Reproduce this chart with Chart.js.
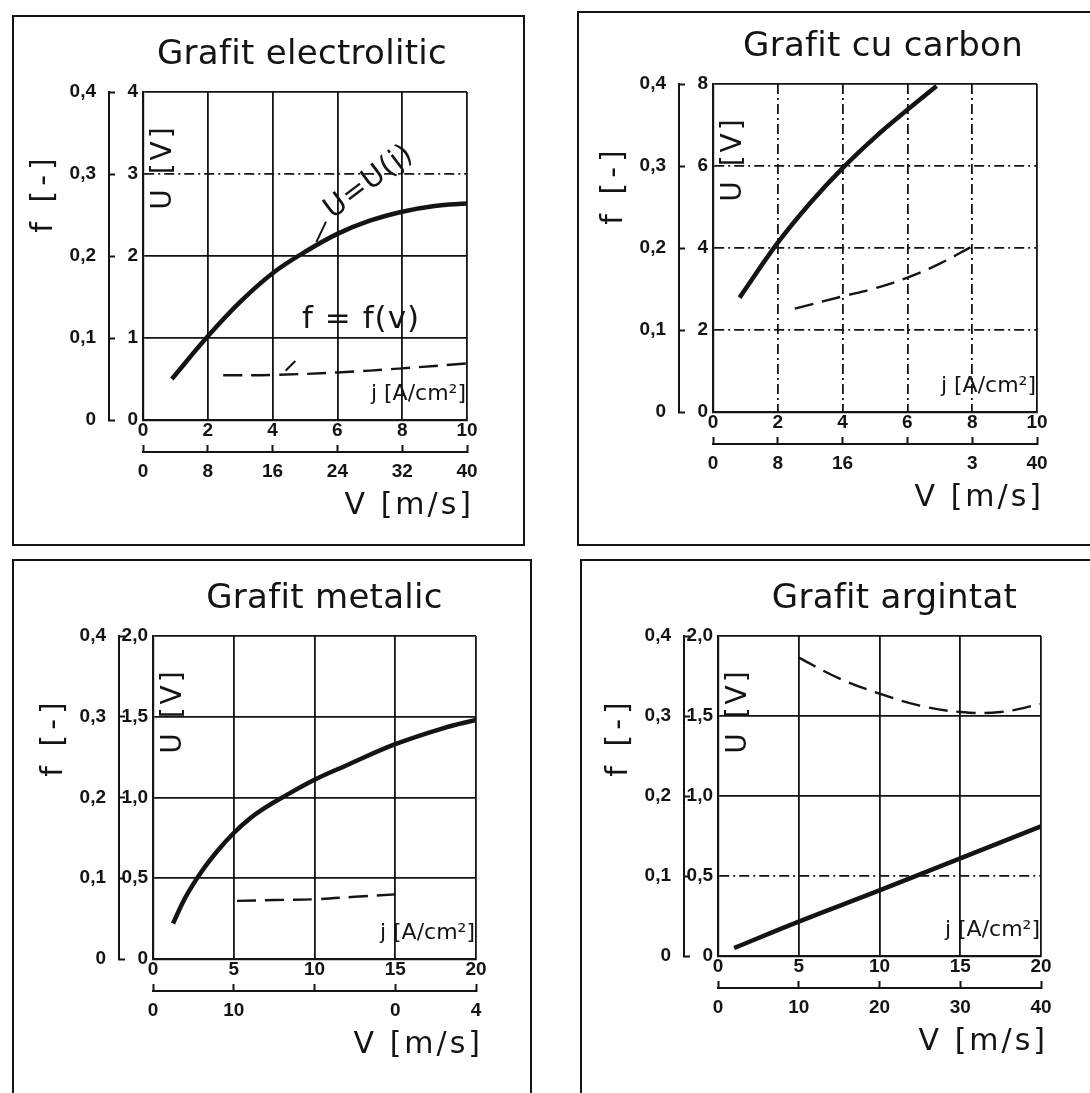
<!DOCTYPE html>
<html>
<head>
<meta charset="utf-8">
<script src="https://cdn.jsdelivr.net/npm/chart.js@4.4.1/dist/chart.umd.min.js"></script>
<style>
    html, body { margin: 0; padding: 0; background: #fff; }
    body { width: 1090px; height: 1093px; position: relative; overflow: hidden; }
    .box { position: absolute; border: 2px solid #141414; box-sizing: border-box; }
    .panel { position: absolute; }
</style>
</head>
<body>
<div class="box" style="left:12px;top:15px;width:513px;height:531px"></div>
<div class="box" style="left:577px;top:11px;width:540px;height:535px"></div>
<div class="box" style="left:12px;top:559px;width:520px;height:560px"></div>
<div class="box" style="left:580px;top:559px;width:540px;height:560px"></div>

<div class="panel" style="left:3px;top:2px"><canvas id="elChart" width="520" height="520"></canvas></div>
<div class="panel" style="left:573px;top:-6px"><canvas id="carChart" width="520" height="520"></canvas></div>
<div class="panel" style="left:13px;top:546px"><canvas id="metChart" width="520" height="520"></canvas></div>
<div class="panel" style="left:578px;top:546px"><canvas id="argChart" width="520" height="520"></canvas></div>

<script>
// Four brush-grade panels: U = U(j) solid, f = f(v) dashed, shared plot frame.

const INK = '#141414';
const HAND = '"DejaVu Sans", "Liberation Sans", sans-serif';
const DIGITS = { family: '"Liberation Sans", sans-serif', size: 19, weight: 'bold' };
const DASH_DOT = [10, 4, 2, 4];

// shared f axis
const fTicks = ['0', '0,1', '0,2', '0,3', '0,4'];

// Grafit electrolitic
const elJ = [0.89, 2, 3, 4, 5, 6, 7, 8, 9, 10];
const elU = [0.5, 1.02, 1.44, 1.79, 2.05, 2.27, 2.43, 2.54, 2.61, 2.64];
const elV = [9.9, 16, 24, 32, 40];
const elF = [0.0545, 0.055, 0.058, 0.063, 0.069];
const elJTicks = ['0', '2', '4', '6', '8', '10'];
const elVTicks = ['0', '8', '16', '24', '32', '40'];
const elUTicks = ['0', '1', '2', '3', '4'];

// Grafit cu carbon
const carJ = [0.82, 2, 3, 4, 5, 6, 6.9];
const carU = [2.79, 4.13, 5.1, 5.95, 6.7, 7.37, 7.95];
const carV = [10.1, 16, 20, 24, 28, 32];
const carF = [0.126, 0.141, 0.151, 0.164, 0.181, 0.202];
const carJTicks = ['0', '2', '4', '6', '8', '10'];
const carVTicks = ['0', '8', '16', '', '3', '40'];
const carUTicks = ['0', '2', '4', '6', '8'];

// Grafit metalic
const metJ = [1.24, 2, 3, 4, 5, 6, 7, 8, 10, 12, 15, 18, 20];
const metU = [0.22, 0.38, 0.54, 0.67, 0.78, 0.87, 0.94, 1.0, 1.11, 1.2, 1.33, 1.43, 1.48];
const metV = [10.4, 15, 20, 25, 30];
const metF = [0.072, 0.073, 0.074, 0.077, 0.08];
const metJTicks = ['0', '5', '10', '15', '20'];
const metVTicks = ['0', '10', '', '0', '4'];
const metUTicks = ['0', '0,5', '1,0', '1,5', '2,0'];

// Grafit argintat
const argJ = [1, 5, 10, 15, 20];
const argU = [0.05, 0.215, 0.41, 0.61, 0.81];
const argV = [10, 15, 20, 25, 30, 35, 40];
const argF = [0.373, 0.347, 0.328, 0.313, 0.305, 0.305, 0.315];
const argJTicks = ['0', '5', '10', '15', '20'];
const argVTicks = ['0', '10', '20', '30', '40'];
const argUTicks = ['0', '0,5', '1,0', '1,5', '2,0'];

function rotText(ctx, text, x, y, deg, font, spacing) {
    ctx.save();
    ctx.translate(x, y);
    ctx.rotate(deg * Math.PI / 180);
    ctx.font = font;
    ctx.letterSpacing = spacing || '0px';
    ctx.textAlign = 'center';
    ctx.textBaseline = 'middle';
    ctx.fillText(text, 0, 0);
    ctx.restore();
}

// titles, axis names and the hand annotations
function panelText(cfg) {
    return {
        id: 'panelText',
        afterDraw(chart) {
            const { ctx, chartArea: a, scales } = chart;
            ctx.save();
            ctx.fillStyle = INK;
            ctx.strokeStyle = INK;
            rotText(ctx, cfg.title, (a.left + a.right) / 2 + cfg.titleShift, a.top - 37, 0, '34px ' + HAND, '0.3px');
            rotText(ctx, 'f [-]', a.left - 99, a.top + 101, -90, '30px ' + HAND, '5px');
            rotText(ctx, 'U [V]', a.left + 21, a.top + 75, -90, '28px ' + HAND, '3px');

            ctx.font = '22px ' + HAND;
            ctx.textAlign = 'right';
            ctx.textBaseline = 'middle';
            ctx.fillText('j [A/cm²]', a.right - 1, a.bottom - 26);

            ctx.font = '30px ' + HAND;
            ctx.letterSpacing = '3px';
            ctx.fillText('V [m/s]', a.right + 7, a.bottom + 86);
            ctx.letterSpacing = '0px';

            (cfg.notes || []).forEach(n => {
                const x = scales.j.getPixelForValue(n.at[0]);
                const y = scales.U.getPixelForValue(n.at[1]);
                rotText(ctx, n.text, x, y, n.rot, n.size + 'px ' + HAND, '1px');
                ctx.lineWidth = 2;
                ctx.beginPath();
                ctx.moveTo(scales.j.getPixelForValue(n.lead[0]), scales.U.getPixelForValue(n.lead[1]));
                ctx.lineTo(scales.j.getPixelForValue(n.lead[2]), scales.U.getPixelForValue(n.lead[3]));
                ctx.stroke();
            });
            ctx.restore();
        }
    };
}

function makePanel(id, cfg) {
    const pts = (xs, ys) => xs.map((x, i) => ({ x, y: ys[i] }));
    const tickFont = { ...DIGITS };
    new Chart(document.getElementById(id), {
        type: 'line',
        data: {
            datasets: [{
                data: pts(cfg.j, cfg.u),
                xAxisID: 'j', yAxisID: 'U',
                borderColor: INK, borderWidth: 4.5,
                pointRadius: 0, tension: 0.4, fill: false
            }, {
                data: pts(cfg.v, cfg.f),
                xAxisID: 'v', yAxisID: 'f',
                borderColor: INK, borderWidth: 2.4, borderDash: [19, 9],
                pointRadius: 0, tension: 0.4, fill: false
            }]
        },
        options: {
            responsive: false,
            animation: false,
            events: [],
            layout: { padding: { left: 44, top: 90, right: 380 - cfg.w, bottom: 358 - cfg.h } },
            plugins: { legend: { display: false }, tooltip: { enabled: false } },
            scales: {
                j: {
                    type: 'linear', position: 'bottom', weight: 0,
                    min: 0, max: cfg.jMax,
                    ticks: { stepSize: cfg.jMax / (cfg.jTicks.length - 1), autoSkip: false, maxRotation: 0, padding: 1,
                        color: INK, font: { ...tickFont, lineHeight: 1 }, callback: (v, i) => cfg.jTicks[i] },
                    grid: { color: INK, lineWidth: 1.8, drawTicks: false },
                    border: { color: INK, width: 2.2, dash: c => (cfg.dashCols.includes(c.index) ? DASH_DOT : []) },
                    afterFit: s => { s.height = 32; }
                },
                v: {
                    type: 'linear', position: 'bottom', weight: 1,
                    min: 0, max: 40,
                    ticks: { stepSize: 40 / (cfg.vTicks.length - 1), autoSkip: false, maxRotation: 0, padding: 15,
                        color: INK, font: tickFont, callback: (v, i) => cfg.vTicks[i] },
                    grid: { drawOnChartArea: false, drawTicks: true, tickLength: -7, tickWidth: 2, tickColor: INK },
                    border: { color: INK, width: 2 },
                    afterFit: s => { s.height = 40; }
                },
                U: {
                    type: 'linear', position: 'left', weight: 0,
                    min: 0, max: cfg.uMax,
                    ticks: { stepSize: cfg.uMax / 4, padding: 5, color: INK, font: tickFont,
                        callback: (v, i) => cfg.uTicks[i] },
                    grid: { color: INK, lineWidth: 1.8, drawTicks: false },
                    border: { color: INK, width: 2.2, dash: c => (cfg.dashRows.includes(c.index) ? DASH_DOT : []) },
                    afterFit: s => { s.width = 34; }
                },
                f: {
                    type: 'linear', position: 'left', weight: 1,
                    min: 0, max: 0.4,
                    ticks: { stepSize: 0.1, padding: 19, color: INK, font: tickFont,
                        callback: (v, i) => fTicks[i] },
                    grid: { drawOnChartArea: false, drawTicks: true, tickLength: -6, tickWidth: 2, tickColor: INK },
                    border: { color: INK, width: 2 },
                    afterFit: s => { s.width = 62; }
                }
            }
        },
        plugins: [panelText(cfg)]
    });
}

makePanel('elChart', {
    title: 'Grafit electrolitic', titleShift: -3, w: 324, h: 328,
    j: elJ, u: elU, v: elV, f: elF, jMax: 10, uMax: 4,
    jTicks: elJTicks, vTicks: elVTicks, uTicks: elUTicks,
    dashRows: [3], dashCols: [],
    notes: [
        { text: 'U=U(j)', at: [6.98, 2.9], rot: -37, size: 29, lead: [5.65, 2.42, 5.35, 2.17] },
        { text: 'f = f(v)', at: [6.73, 1.22], rot: 0, size: 31, lead: [4.7, 0.72, 4.4, 0.6] }
    ]
});

makePanel('carChart', {
    title: 'Grafit cu carbon', titleShift: 8, w: 324, h: 328,
    j: carJ, u: carU, v: carV, f: carF, jMax: 10, uMax: 8,
    jTicks: carJTicks, vTicks: carVTicks, uTicks: carUTicks,
    dashRows: [1, 2, 3], dashCols: [1, 2, 3, 4]
});

makePanel('metChart', {
    title: 'Grafit metalic', titleShift: 10, w: 323, h: 323,
    j: metJ, u: metU, v: metV, f: metF, jMax: 20, uMax: 2,
    jTicks: metJTicks, vTicks: metVTicks, uTicks: metUTicks,
    dashRows: [], dashCols: []
});

makePanel('argChart', {
    title: 'Grafit argintat', titleShift: 15, w: 323, h: 320,
    j: argJ, u: argU, v: argV, f: argF, jMax: 20, uMax: 2,
    jTicks: argJTicks, vTicks: argVTicks, uTicks: argUTicks,
    dashRows: [1], dashCols: []
});
</script>
</body>
</html>
